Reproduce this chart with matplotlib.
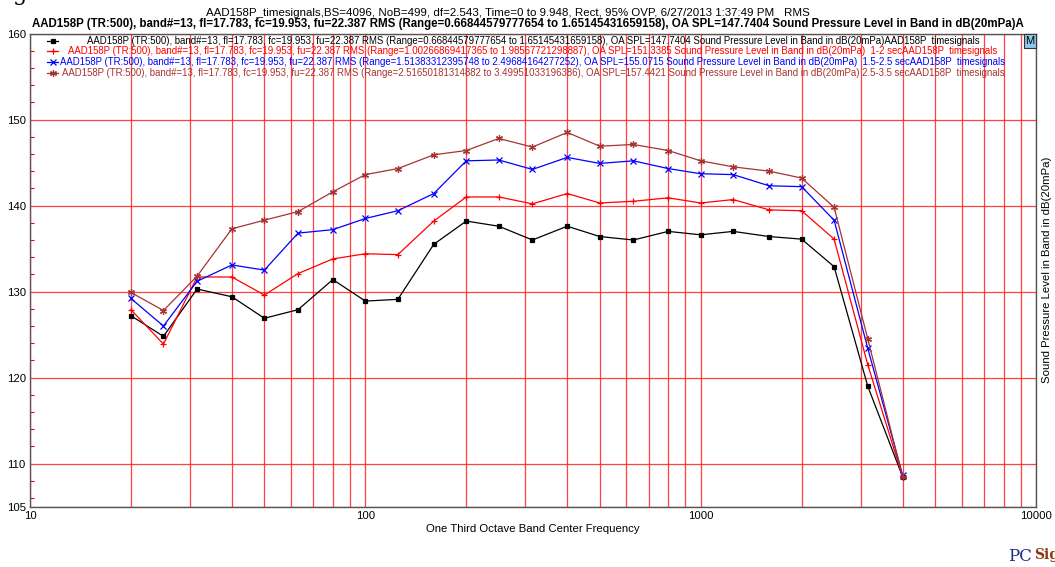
import matplotlib
matplotlib.use("Agg")
import matplotlib.pyplot as plt
from matplotlib.lines import Line2D
from matplotlib.ticker import FixedLocator, MultipleLocator, LogLocator, NullFormatter

plt.rcParams['font.family'] = ['Liberation Sans', 'DejaVu Sans']

# one third octave band centres (Hz)
freqs = [20, 25, 31.5, 40, 50, 63, 80, 100, 125, 160, 200, 250, 315, 400,
         500, 630, 800, 1000, 1250, 1600, 2000, 2500, 3150, 4000]

# SPL in band, dB(20mPa)
spl_full = [127.2, 124.8, 130.3, 129.4, 126.9, 127.9, 131.4, 128.9, 129.1, 135.5, 138.2, 137.6,
            136.0, 137.6, 136.4, 136.0, 137.0, 136.6, 137.0, 136.4, 136.1, 132.9, 119.0, 108.5]
spl_1_2 = [127.9, 123.9, 131.7, 131.7, 129.6, 132.1, 133.8, 134.4, 134.3, 138.2, 141.0, 141.0,
           140.2, 141.4, 140.3, 140.5, 140.9, 140.3, 140.7, 139.5, 139.4, 136.1, 121.5, 108.5]
spl_15_25 = [129.2, 126.0, 131.2, 133.1, 132.5, 136.8, 137.2, 138.5, 139.4, 141.4, 145.2, 145.3,
             144.2, 145.6, 144.9, 145.2, 144.3, 143.7, 143.6, 142.3, 142.2, 138.3, 123.4, 108.7]
spl_25_35 = [129.9, 127.8, 131.8, 137.3, 138.3, 139.3, 141.6, 143.6, 144.3, 145.9, 146.4, 147.8,
             146.8, 148.5, 146.9, 147.1, 146.4, 145.2, 144.5, 144.0, 143.2, 139.8, 124.5, 108.5]

head = "AAD158P (TR:500), band#=13, fl=17.783, fc=19.953, fu=22.387 RMS "
legend_labels = [
    head + "(Range=0.66844579777654 to 1.65145431659158), OA SPL=147.7404 Sound Pressure Level in Band in dB(20mPa)AAD158P  timesignals",
    head + "(Range=1.00266869417365 to 1.98567721298887), OA SPL=151.3385 Sound Pressure Level in Band in dB(20mPa)  1-2 secAAD158P  timesignals",
    head + "(Range=1.51383312395748 to 2.49684164277252), OA SPL=155.0715 Sound Pressure Level in Band in dB(20mPa)  1.5-2.5 secAAD158P  timesignals",
    head + "(Range=2.51650181314882 to 3.49951033196386), OA SPL=157.4421 Sound Pressure Level in Band in dB(20mPa) 2.5-3.5 secAAD158P  timesignals",
]
title1 = "AAD158P_timesignals,BS=4096, NoB=499, df=2.543, Time=0 to 9.948, Rect, 95% OVP, 6/27/2013 1:37:49 PM   RMS"
title2 = "AAD158P (TR:500), band#=13, fl=17.783, fc=19.953, fu=22.387 RMS (Range=0.66844579777654 to 1.65145431659158), OA SPL=147.7404 Sound Pressure Level in Band in dB(20mPa)A"

yticks = [105, 110, 120, 130, 140, 150, 160]

W, H = 1055, 567
fig = plt.figure(figsize=(W / 100, H / 100), dpi=100)
ax = fig.add_axes([30 / W, 1 - 506.7 / H, 1006 / W, 473.2 / H])


def fx(px):
    return px / W


def fy(py):
    return 1 - py / H


series = [
    (spl_full, 'black', 's', 2.3),
    (spl_1_2, 'red', '+', 5),
    (spl_15_25, 'blue', 'x', 4),
    (spl_25_35, '#a83232', (6, 2, 0), 5),
]
for vals, c, m, ms in series:
    ax.plot(freqs, vals, color=c, lw=0.9, marker=m, ms=ms, mew=0.9, zorder=3)

ax.set_xscale('log')
ax.set_xlim(10, 10000)
ax.set_ylim(105, 160)
ax.xaxis.set_major_locator(FixedLocator([10, 100, 1000, 10000]))
ax.set_xticklabels(['10', '100', '1000', '10000'])
ax.xaxis.set_minor_locator(LogLocator(base=10, subs=range(2, 10)))
ax.xaxis.set_minor_formatter(NullFormatter())
ax.yaxis.set_major_locator(FixedLocator(yticks))
ax.yaxis.set_minor_locator(MultipleLocator(2))
ax.yaxis.set_ticks_position('left')
ax.xaxis.set_ticks_position('bottom')

ax.set_axisbelow(True)
ax.grid(True, which='both', axis='x', color='#ff2020', lw=0.9, alpha=0.85)
ax.grid(True, which='major', axis='y', color='#ff2020', lw=0.9, alpha=0.85)

ax.tick_params(axis='both', which='major', length=0, labelsize=8.2, pad=3)
ax.tick_params(axis='x', which='minor', length=0)
ax.tick_params(axis='y', which='minor', direction='in', length=3, color='red', width=0.8)

for sp in ax.spines.values():
    sp.set_color('#555555')
    sp.set_linewidth(1.0)

ax.set_xlabel("One Third Octave Band Center Frequency", fontsize=8.2, labelpad=2)
ax.yaxis.set_label_position('right')
ax.set_ylabel("Sound Pressure Level in Band in dB(20mPa)", fontsize=8.2, labelpad=4)

fig.canvas.draw()
renderer = fig.canvas.get_renderer()


def fit(txt, width_px):
    bb = txt.get_window_extent(renderer)
    txt.set_fontsize(txt.get_fontsize() * width_px / bb.width)


t1 = fig.text(fx(508), fy(12.5), title1, ha='center', va='center', fontsize=10)
fit(t1, 598)
t2 = fig.text(fx(528), fy(24.5), title2, ha='center', va='center', fontsize=10, fontweight='bold')
fit(t2, 992)

# legend rows drawn as centred text lines with a short sample on the left
rows_y = [40.5, 51.2, 61.9, 72.6]
leg_texts = []
for (vals, c, m, ms), lab, yy in zip(series, legend_labels, rows_y):
    fig.add_artist(Line2D([fx(47), fx(52.5), fx(58)], [fy(yy)] * 3, transform=fig.transFigure,
                          color=c, lw=0.9, marker=m, ms=ms, mew=0.9, markevery=[1]))
    leg_texts.append(fig.text(fx(533), fy(yy), lab, ha='center', va='center', color=c, fontsize=10))
bb = leg_texts[0].get_window_extent(renderer)
fs = 10 * 900 / bb.width
for t in leg_texts:
    t.set_fontsize(fs)

fig.text(fx(1030), fy(41), 'M', ha='center', va='center', fontsize=8,
         bbox=dict(boxstyle='square,pad=0.15', fc='#8cc8e8', ec='#333333', lw=0.8))

# cropped page remnants
fig.text(fx(13), fy(0), 'g', fontsize=16, family='DejaVu Serif', ha='left', va='baseline')
fig.text(fx(1008), fy(561), 'PC', fontsize=12, family='DejaVu Serif', color='#1f2a8a',
         ha='left', va='baseline')
fig.text(fx(1034), fy(559), 'Sign', fontsize=10, family='DejaVu Serif', fontweight='bold',
         color='#8b3a12', ha='left', va='baseline')

fig.savefig('out.png', dpi=100)
